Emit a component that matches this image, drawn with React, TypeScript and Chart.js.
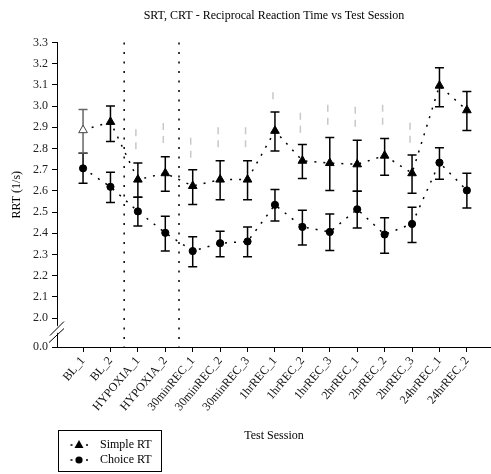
import React, { useEffect, useRef } from 'react';
import { Chart, registerables } from 'chart.js';

Chart.register(...registerables);

const categories = [
  'BL_1', 'BL_2', 'HYPOXIA_1', 'HYPOXIA_2', '30minREC_1', '30minREC_2', '30minREC_3',
  '1hrREC_1', '1hrREC_2', '1hrREC_3', '2hrREC_1', '2hrREC_2', '2hrREC_3', '24hrREC_1', '24hrREC_2',
];

const simpleMean = [2.886, 2.925, 2.653, 2.683, 2.623, 2.653, 2.653, 2.883, 2.742, 2.731, 2.725, 2.766, 2.683, 3.096, 2.98];
const simpleHigh = [2.984, 3.0, 2.731, 2.761, 2.70, 2.742, 2.742, 2.972, 2.819, 2.852, 2.839, 2.847, 2.769, 3.18, 3.068];
const simpleLow = [2.778, 2.833, 2.570, 2.598, 2.536, 2.558, 2.558, 2.788, 2.658, 2.602, 2.598, 2.673, 2.588, 2.997, 2.884];

const choiceMean = [2.706, 2.619, 2.503, 2.402, 2.316, 2.353, 2.361, 2.534, 2.430, 2.406, 2.513, 2.394, 2.444, 2.733, 2.602];
const choiceHigh = [2.777, 2.688, 2.570, 2.480, 2.384, 2.409, 2.430, 2.606, 2.508, 2.491, 2.598, 2.473, 2.523, 2.803, 2.683];
const choiceLow = [2.636, 2.545, 2.434, 2.316, 2.242, 2.289, 2.289, 2.458, 2.345, 2.319, 2.425, 2.306, 2.356, 2.655, 2.519];

// faint grey significance marks (top / bottom of dashed segment), null = none
const markTop = [null, null, 2.89, 2.92, 2.85, 2.90, 2.90, 3.065, 2.968, 3.006, 2.997, 3.006, 2.921, null, null];
const markBottom = [null, null, 2.78, 2.82, 2.75, 2.80, 2.80, 3.03, 2.874, 2.912, 2.898, 2.902, 2.827, null, null];

const simpleOpen = [true, false, false, false, false, false, false, false, false, false, false, false, false, false, false];

const yTickValues = [2.0, 2.1, 2.2, 2.3, 2.4, 2.5, 2.6, 2.7, 2.8, 2.9, 3.0, 3.1, 3.2, 3.3];
const yBreakBase = 1.8635; // position drawn as "0.0" below the axis break
const yBreakLabel = '0.0';
const phaseDividers = [1.5, 3.5];

const titleText = 'SRT, CRT - Reciprocal Reaction Time vs Test Session';
const xTitle = 'Test Session';
const yTitle = 'RRT (1/s)';
const seriesNames = ['Simple RT', 'Choice RT'];

const SERIF = '"Liberation Serif", "DejaVu Serif", "Times New Roman", serif';

export default function App() {
  const ref = useRef<HTMLCanvasElement>(null);

  useEffect(() => {
    document.body.style.margin = '0';
    const canvas = ref.current;
    if (!canvas) return;

    const decor = {
      id: 'decor',
      beforeDatasetsDraw(chart: any) {
        const { ctx, chartArea, scales } = chart;
        const xs = scales.x;
        const ys = scales.y;
        ctx.save();
        // phase dividers
        ctx.strokeStyle = '#000';
        ctx.lineWidth = 1.5;
        ctx.setLineDash([2, 7.5]);
        phaseDividers.forEach((d) => {
          const px = xs.getPixelForValue(d);
          ctx.beginPath();
          ctx.moveTo(px, chartArea.top);
          ctx.lineTo(px, chartArea.bottom);
          ctx.stroke();
        });
        // grey marks
        ctx.strokeStyle = '#c8c8c8';
        ctx.lineWidth = 1.5;
        ctx.setLineDash([7, 6]);
        markTop.forEach((t, i) => {
          const b = markBottom[i];
          if (t == null || b == null) return;
          const px = xs.getPixelForValue(i) - 2;
          ctx.beginPath();
          ctx.moveTo(px, ys.getPixelForValue(t));
          ctx.lineTo(px, ys.getPixelForValue(b));
          ctx.stroke();
        });
        ctx.setLineDash([]);
        // error bars
        const drawBars = (hi: number[], lo: number[], colorFor: (i: number) => string) => {
          hi.forEach((h, i) => {
            const px = xs.getPixelForValue(i);
            const y1 = ys.getPixelForValue(h);
            const y2 = ys.getPixelForValue(lo[i]);
            ctx.strokeStyle = colorFor(i);
            ctx.lineWidth = 1.5;
            ctx.beginPath();
            ctx.moveTo(px, y1);
            ctx.lineTo(px, y2);
            ctx.moveTo(px - 4.5, y1);
            ctx.lineTo(px + 4.5, y1);
            ctx.moveTo(px - 4.5, y2);
            ctx.lineTo(px + 4.5, y2);
            ctx.stroke();
          });
        };
        drawBars(choiceHigh, choiceLow, () => '#000');
        drawBars(simpleHigh, simpleLow, (i) => (simpleOpen[i] ? '#666' : '#000'));
        ctx.restore();
      },
      afterDraw(chart: any) {
        const { ctx, chartArea, scales } = chart;
        const ys = scales.y;
        ctx.save();
        // axis break marks
        const yb = (ys.getPixelForValue(yBreakBase) + ys.getPixelForValue(2.0)) / 2;
        const ax = chartArea.left;
        ctx.fillStyle = '#fff';
        ctx.beginPath();
        ctx.moveTo(ax - 7, yb + 1);
        ctx.lineTo(ax + 7, yb - 13);
        ctx.lineTo(ax + 7, yb - 6);
        ctx.lineTo(ax - 7, yb + 8);
        ctx.closePath();
        ctx.fill();
        ctx.strokeStyle = '#000';
        ctx.lineWidth = 1;
        ctx.beginPath();
        ctx.moveTo(ax - 7, yb + 3);
        ctx.lineTo(ax + 7, yb - 11);
        ctx.moveTo(ax - 8, yb + 10);
        ctx.lineTo(ax + 7, yb - 4);
        ctx.stroke();

        // axis titles
        ctx.fillStyle = '#000';
        ctx.font = `12px ${SERIF}`;
        ctx.textAlign = 'center';
        ctx.textBaseline = 'middle';
        ctx.fillText(xTitle, (chartArea.left + chartArea.right) / 2, chartArea.bottom + 89);
        ctx.save();
        ctx.translate(17, (chartArea.top + chartArea.bottom) / 2);
        ctx.rotate(-Math.PI / 2);
        ctx.fillText(yTitle, 0, 0);
        ctx.restore();

        // legend
        const lx = chartArea.left + 1;
        const ly = chart.height - 44;
        ctx.strokeStyle = '#000';
        ctx.lineWidth = 1;
        ctx.strokeRect(lx + 0.5, ly + 0.5, 103, 41);
        const rows = [ly + 15, ly + 30];
        rows.forEach((ry, k) => {
          const mx = lx + 21;
          ctx.fillStyle = '#000';
          ctx.fillRect(mx - 8.5, ry - 0.75, 2, 1.5);
          ctx.fillRect(mx + 7, ry - 0.75, 2, 1.5);
          ctx.beginPath();
          if (k === 0) {
            ctx.moveTo(mx, ry - 5);
            ctx.lineTo(mx + 4.5, ry + 3);
            ctx.lineTo(mx - 4.5, ry + 3);
            ctx.closePath();
          } else {
            ctx.arc(mx, ry, 3.6, 0, Math.PI * 2);
          }
          ctx.fill();
          ctx.textAlign = 'left';
          ctx.textBaseline = 'middle';
          ctx.fillText(seriesNames[k], lx + 42, ry);
        });
        ctx.restore();
      },
    };

    const fontTick = { family: SERIF, size: 12 };

    const chart = new Chart(canvas, {
      type: 'line',
      data: {
        datasets: [
          {
            label: seriesNames[0],
            data: simpleMean.map((v, i) => ({ x: i, y: v })),
            borderColor: '#000',
            borderWidth: 1.5,
            borderDash: [2, 7],
            pointStyle: 'triangle',
            pointRadius: 5,
            pointBackgroundColor: simpleOpen.map((o) => (o ? '#fff' : '#000')),
            pointBorderColor: simpleOpen.map((o) => (o ? '#444' : '#000')),
            pointBorderWidth: 1,
            fill: false,
            tension: 0,
          },
          {
            label: seriesNames[1],
            data: choiceMean.map((v, i) => ({ x: i, y: v })),
            borderColor: '#000',
            borderWidth: 1.5,
            borderDash: [2, 7],
            pointStyle: 'circle',
            pointRadius: 3.6,
            pointBackgroundColor: '#000',
            pointBorderColor: '#000',
            pointBorderWidth: 1,
            fill: false,
            tension: 0,
          },
        ],
      },
      options: {
        animation: false,
        responsive: false,
        events: [],
        layout: { padding: 0, autoPadding: false },
        plugins: {
          legend: { display: false },
          tooltip: { enabled: false },
          title: {
            display: true,
            text: titleText,
            color: '#000',
            font: { family: SERIF, size: 12, weight: 'normal' },
            padding: { top: 9, bottom: 19 },
            fullSize: false,
          },
        },
        scales: {
          x: {
            type: 'linear',
            min: -0.95,
            max: 14.88,
            afterBuildTicks: (s: any) => {
              s.ticks = categories.map((_, i) => ({ value: i }));
            },
            afterFit: (s: any) => {
              s.height = 127;
              s.paddingLeft = 0;
              s.paddingRight = 0;
            },
            ticks: {
              autoSkip: false,
              maxRotation: 50,
              minRotation: 50,
              padding: 2,
              color: '#111',
              font: fontTick,
              callback: (v: any) => categories[v] ?? '',
            },
            grid: { display: true, drawOnChartArea: false, drawTicks: true, tickLength: 5, color: '#000' },
            border: { display: true, color: '#000', width: 1 },
          },
          y: {
            type: 'linear',
            min: yBreakBase,
            max: 3.3,
            afterBuildTicks: (s: any) => {
              s.ticks = [yBreakBase, ...yTickValues].map((v) => ({ value: v }));
            },
            afterFit: (s: any) => {
              s.width = 57;
            },
            ticks: {
              padding: 4,
              color: '#222',
              font: fontTick,
              callback: (v: any) => (v < 1.95 ? yBreakLabel : Number(v).toFixed(1)),
            },
            grid: { display: true, drawOnChartArea: false, drawTicks: true, tickLength: 5, color: '#000' },
            border: { display: true, color: '#000', width: 1 },
          },
        },
      },
      plugins: [decor],
    } as any);

    return () => chart.destroy();
  }, []);

  return (
    <div style={{ width: 491, height: 474 }}>
      <canvas ref={ref} width={491} height={474} style={{ display: 'block' }} />
    </div>
  );
}
